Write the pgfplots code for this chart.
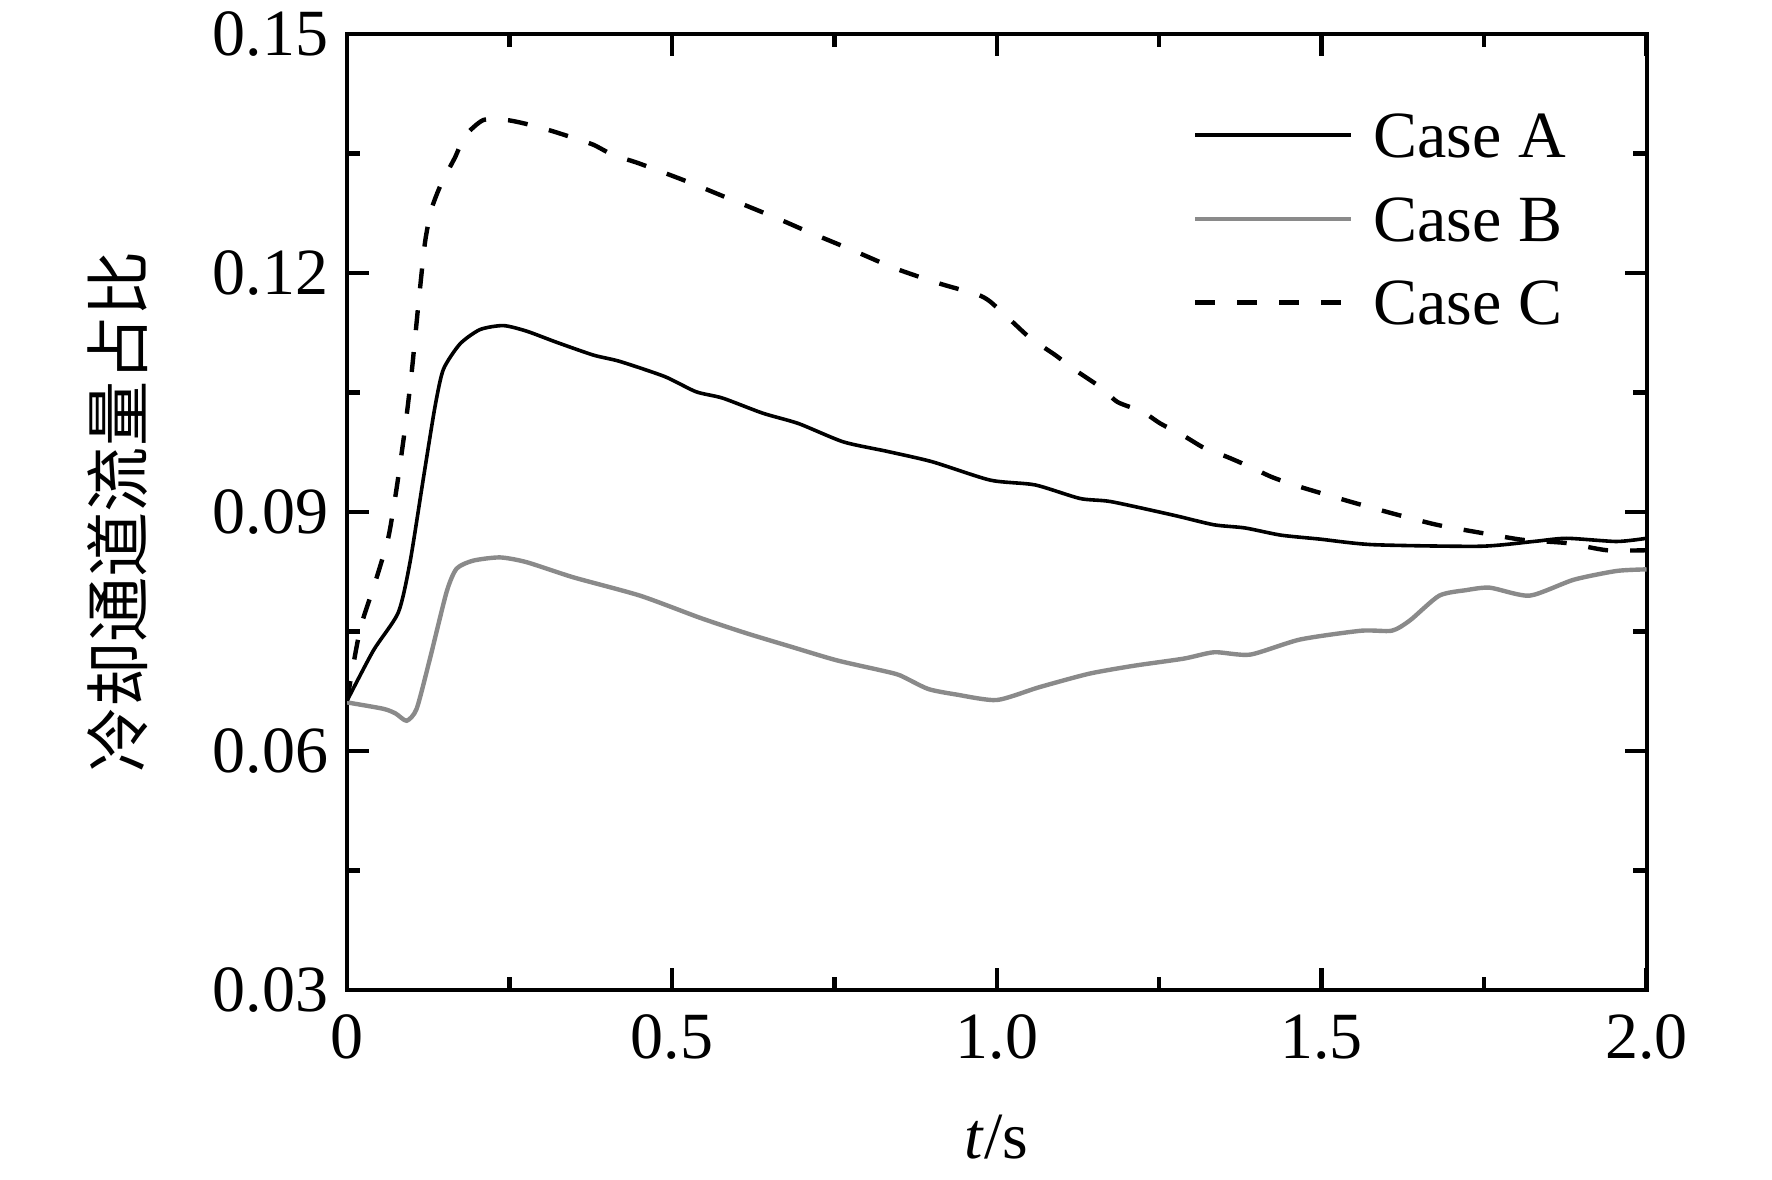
\documentclass[border=0pt]{standalone}
\usepackage{pgfplots}
\pgfplotsset{compat=1.18}
\usepackage{fontspec}
\setmainfont{Liberation Serif}
\newfontfamily\cjk{Noto Sans CJK SC}
\definecolor{caseB}{RGB}{138,138,138}
\begin{document}
\begin{tikzpicture}
\begin{axis}[
  scale only axis,
  width=324.875pt, height=239pt,
  xmin=0, xmax=2, ymin=0.03, ymax=0.15,
  xtick={0,0.5,1,1.5,2},
  xticklabels={0,0.5,1.0,1.5,2.0},
  ytick={0.03,0.06,0.09,0.12,0.15},
  yticklabels={0.03,0.06,0.09,0.12,0.15},
  minor x tick num=1, minor y tick num=1,
  tick align=inside,
  major tick length=5.5pt, minor tick length=3.3pt,
  axis line style={line width=1pt},
  every tick/.style={black, line width=1.1pt},
  /pgf/number format/assume math mode=true,
  tick label style={font=\fontsize{16.5}{20}\selectfont},
  xticklabel style={yshift=-2.6pt},
  yticklabel style={xshift=-1.2pt},
  xlabel={\textit{t}/s},
  xlabel style={font=\fontsize{16.5}{20}\selectfont, at={(axis description cs:0.5,0)}, anchor=base, yshift=-42pt},
  ylabel={\cjk 冷却通道流量占比},
  ylabel style={font=\fontsize{16.3}{20}\selectfont, at={(axis description cs:-0.17653,0.5)}, anchor=center},
  legend cell align=left,
  legend style={draw=none, fill=none, inner sep=0pt, outer sep=0pt,
    at={(axis description cs:0.6510,0.9178)}, anchor=north west,
    row sep=9.6pt,
    font=\fontsize{16.5}{20}\selectfont,
    nodes={inner sep=0pt, text height=11.3pt, text depth=0pt},
    /tikz/every odd column/.append style={column sep=5pt}},
  legend image code/.code={\draw[#1] (0pt,0pt) -- (39pt,0pt);},
]
\addplot[black, line width=0.9pt, smooth, tension=0.4] coordinates {
(0,0.0663) (0.0405,0.0726) (0.079,0.0774) (0.097,0.0837) (0.1175,0.0942)
(0.1354,0.1032) (0.1483,0.1079) (0.1739,0.1111) (0.2047,0.1129) (0.2406,0.1134)
(0.2765,0.1127) (0.3227,0.1113) (0.3791,0.1097) (0.420,0.1089) (0.489,0.1070)
(0.537,0.1051) (0.578,0.1043) (0.640,0.1024) (0.695,0.1011) (0.764,0.0988)
(0.832,0.0976) (0.901,0.0963) (0.990,0.0940) (1.059,0.0934) (1.128,0.0917)
(1.176,0.0913) (1.272,0.0896) (1.334,0.0884) (1.382,0.0880) (1.437,0.0871)
(1.497,0.0866) (1.579,0.0859) (1.744,0.0857) (1.826,0.0863) (1.877,0.0867)
(1.954,0.0863) (2.0,0.0867)
};
\addlegendentry{Case A}
\addplot[caseB, line width=1.1pt, smooth, tension=0.4] coordinates {
(0,0.0661) (0.0559,0.0653) (0.075,0.0647) (0.0918,0.0638) (0.1072,0.0653)
(0.1277,0.0716) (0.1534,0.0800) (0.1688,0.0829) (0.1944,0.0839) (0.2355,0.0843)
(0.2765,0.0837) (0.3484,0.0818) (0.4510,0.0795) (0.544,0.0767) (0.614,0.0748)
(0.683,0.0731) (0.753,0.0714) (0.823,0.0701) (0.851,0.0695) (0.894,0.0678)
(0.937,0.0671) (1.0,0.0664) (1.065,0.0680) (1.142,0.0697) (1.211,0.0707)
(1.288,0.0716) (1.335,0.0724) (1.39,0.0721) (1.467,0.0740) (1.561,0.0751)
(1.608,0.0751) (1.636,0.0764) (1.681,0.0795) (1.723,0.0802) (1.759,0.0805)
(1.820,0.0795) (1.888,0.0815) (1.954,0.0826) (2.0,0.0828)
};
\addlegendentry{Case B}
\addplot[black, line width=1.1pt, dash pattern=on 5pt off 5.5pt, smooth, tension=0.4] coordinates {
(0,0.0663) (0.02,0.0752) (0.0431,0.0811) (0.0636,0.0868) (0.0764,0.0930)
(0.0893,0.1005) (0.0995,0.1075) (0.1098,0.1160) (0.1200,0.1238) (0.1300,0.1280)
(0.1450,0.1312) (0.1662,0.1345) (0.1816,0.1372) (0.2098,0.1392) (0.2457,0.1392)
(0.2765,0.1387) (0.3124,0.1379) (0.3432,0.1371) (0.3791,0.1361) (0.4099,0.1348)
(0.448,0.1338) (0.523,0.1315) (0.592,0.1292) (0.661,0.1269) (0.709,0.1252)
(0.777,0.1229) (0.843,0.1206) (0.911,0.1187) (0.970,0.1173) (0.990,0.1164)
(1.025,0.1138) (1.052,0.1118) (1.090,0.1097) (1.121,0.1078) (1.159,0.1057)
(1.186,0.1038) (1.224,0.1026) (1.252,0.1011) (1.289,0.0995) (1.320,0.0980)
(1.355,0.0969) (1.389,0.0957) (1.423,0.0944) (1.465,0.0932) (1.544,0.0913)
(1.610,0.0898) (1.677,0.0884) (1.744,0.0874) (1.810,0.0865) (1.877,0.0861)
(1.939,0.0852) (2.0,0.0852)
};
\addlegendentry{Case C}
\end{axis}
\pgfresetboundingbox
\path[use as bounding box] (-86.75pt,-47.25pt) rectangle (356.25pt,247.5pt);
\end{tikzpicture}
\end{document}
